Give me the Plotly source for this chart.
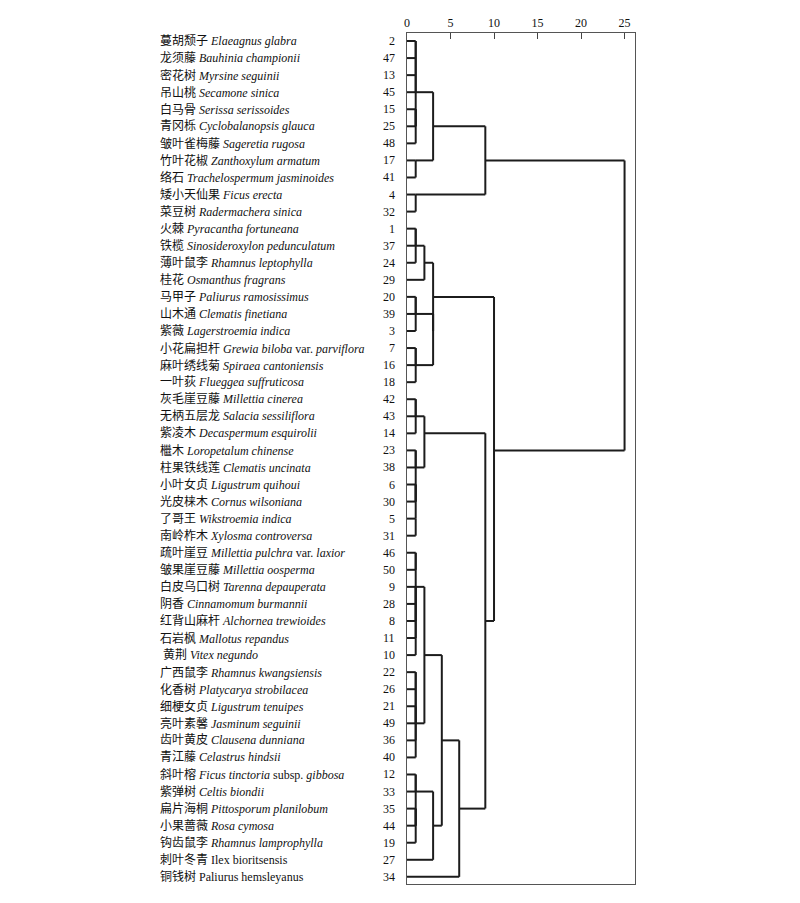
import math
import plotly.graph_objects as go

# ---- data ----
leaf_ids = [2, 47, 13, 45, 15, 25, 48, 17, 41, 4, 32, 1, 37, 24, 29, 20, 39, 3, 7, 16,
            18, 42, 43, 14, 23, 38, 6, 30, 5, 31, 46, 50, 9, 28, 8, 11, 10, 22, 26, 21,
            49, 36, 40, 12, 33, 35, 44, 19, 27, 34]

cn_names = ["蔓胡颓子", "龙须藤", "密花树", "吊山桃", "白马骨", "青冈栎", "皱叶雀梅藤", "竹叶花椒",
            "络石", "矮小天仙果", "菜豆树", "火棘", "铁榄", "薄叶鼠李", "桂花", "马甲子", "山木通",
            "紫薇", "小花扁担杆", "麻叶绣线菊", "一叶荻", "灰毛崖豆藤", "无柄五层龙", "紫凌木", "檵木",
            "柱果铁线莲", "小叶女贞", "光皮梾木", "了哥王", "南岭柞木", "疏叶崖豆", "皱果崖豆藤",
            "白皮乌口树", "阴香", "红背山麻杆", "石岩枫", "\u00a0黄荆", "广西鼠李", "化香树", "细梗女贞",
            "亮叶素馨", "齿叶黄皮", "青江藤", "斜叶榕", "紫弹树", "扁片海桐", "小果蔷薇", "钩齿鼠李",
            "刺叶冬青", "铜钱树"]

latin_names = ["<i>Elaeagnus glabra</i>", "<i>Bauhinia championii</i>", "<i>Myrsine seguinii</i>",
               "<i>Secamone sinica</i>", "<i>Serissa serissoides</i>", "<i>Cyclobalanopsis glauca</i>",
               "<i>Sageretia rugosa</i>", "<i>Zanthoxylum armatum</i>", "<i>Trachelospermum jasminoides</i>",
               "<i>Ficus erecta</i>", "<i>Radermachera sinica</i>", "<i>Pyracantha fortuneana</i>",
               "<i>Sinosideroxylon pedunculatum</i>", "<i>Rhamnus leptophylla</i>", "<i>Osmanthus fragrans</i>",
               "<i>Paliurus ramosissimus</i>", "<i>Clematis finetiana</i>", "<i>Lagerstroemia indica</i>",
               "<i>Grewia biloba</i> var. <i>parviflora</i>", "<i>Spiraea cantoniensis</i>",
               "<i>Flueggea suffruticosa</i>", "<i>Millettia cinerea</i>", "<i>Salacia sessiliflora</i>",
               "<i>Decaspermum esquirolii</i>", "<i>Loropetalum chinense</i>", "<i>Clematis uncinata</i>",
               "<i>Ligustrum quihoui</i>", "<i>Cornus wilsoniana</i>", "<i>Wikstroemia indica</i>",
               "<i>Xylosma controversa</i>", "<i>Millettia pulchra</i> var. <i>laxior</i>",
               "<i>Millettia oosperma</i>", "<i>Tarenna depauperata</i>", "<i>Cinnamomum burmannii</i>",
               "<i>Alchornea trewioides</i>", "<i>Mallotus repandus</i>", "<i>Vitex negundo</i>",
               "<i>Rhamnus kwangsiensis</i>", "<i>Platycarya strobilacea</i>", "<i>Ligustrum tenuipes</i>",
               "<i>Jasminum seguinii</i>", "<i>Clausena dunniana</i>", "<i>Celastrus hindsii</i>",
               "<i>Ficus tinctoria</i> subsp. <i>gibbosa</i>", "<i>Celtis biondii</i>",
               "<i>Pittosporum planilobum</i>", "<i>Rosa cymosa</i>", "<i>Rhamnus lamprophylla</i>",
               "Ilex bioritsensis", "Paliurus hemsleyanus"]

# merges: (node, child_a, child_b, rescaled distance); ints = leaf ids
merges = [
    ("n1", 2, 47, 1), ("n2", 13, 45, 1), ("n3", "n1", "n2", 1), ("n4", 15, 25, 1),
    ("n5", "n4", 48, 1), ("n6", "n3", "n5", 1), ("n7", 17, 41, 1), ("n8", 4, 32, 1),
    ("n9", "n6", "n7", 3), ("n10", "n9", "n8", 9),
    ("n11", 1, 37, 1), ("n12", "n11", 24, 1), ("n13", "n12", 29, 2), ("n14", 20, 39, 1),
    ("n15", "n14", 3, 1), ("n16", 7, 16, 1), ("n17", "n16", 18, 1), ("n18", "n15", "n17", 3),
    ("n19", "n13", "n18", 3),
    ("n20", 42, 43, 1), ("n21", "n20", 14, 1), ("n22", 23, 38, 1), ("n23", 6, 30, 1),
    ("n24", 5, 31, 1), ("n25", "n23", "n24", 1), ("n26", "n22", "n25", 1), ("n27", "n21", "n26", 2),
    ("n28", 46, 50, 1), ("n29", 9, 28, 1), ("n30", 8, 11, 1), ("n31", "n29", "n30", 1),
    ("n32", "n31", 10, 1), ("n33", "n28", "n32", 1),
    ("n34", 22, 26, 1), ("n35", 21, 49, 1), ("n36", "n34", "n35", 1), ("n37", "n36", 36, 1),
    ("n38", "n37", 40, 1), ("n39", "n33", "n38", 2),
    ("n40", 12, 33, 1), ("n41", 35, 44, 1), ("n42", "n41", 19, 1), ("n43", "n40", "n42", 1),
    ("n44", "n43", 27, 3), ("n45", "n39", "n44", 4), ("n46", "n45", 34, 6),
    ("n47", "n27", "n46", 9), ("n48", "n19", "n47", 10), ("n49", "n10", "n48", 25),
]

axis_ticks = [0, 5, 10, 15, 20, 25]

# ---- build dendrogram segments ----
row = {lid: i for i, lid in enumerate(leaf_ids)}
height = {lid: 0 for lid in leaf_ids}
xs, ys = [], []
for node, a, b, d in merges:
    ra, rb = row[a], row[b]
    for c in (a, b):
        xs += [height[c], d, None]
        ys += [row[c], row[c], None]
    xs += [d, d, None]
    ys += [ra, rb, None]
    row[node] = math.floor((ra + rb) / 2)
    height[node] = d

FONT = "Liberation Serif, Noto Sans CJK SC, serif"

fig = go.Figure()
fig.add_trace(go.Scatter(x=xs, y=ys, mode="lines",
                         line=dict(color="#1c1c1c", width=2),
                         hoverinfo="skip", cliponaxis=False))

annotations = []
for i, lid in enumerate(leaf_ids):
    annotations.append(dict(x=0, y=i, xref="x", yref="y", xanchor="left", yanchor="middle",
                            xshift=-249, showarrow=False,
                            text=cn_names[i] + " " + latin_names[i],
                            font=dict(family=FONT, size=12, color="#111")))
    annotations.append(dict(x=0, y=i, xref="x", yref="y", xanchor="right", yanchor="middle",
                            xshift=-10, showarrow=False, text=str(lid),
                            font=dict(family=FONT, size=12, color="#111")))

fig.update_layout(
    width=792, height=895,
    margin=dict(l=399, r=165, t=25, b=19, autoexpand=False),
    paper_bgcolor="white", plot_bgcolor="white",
    showlegend=False,
    annotations=annotations,
    xaxis=dict(side="top", range=[0, 26.2], tickvals=axis_ticks, ticks="inside", ticklen=6,
               tickcolor="#444", showline=True, mirror=True, linecolor="#555", linewidth=1,
               showgrid=False, zeroline=False,
               tickfont=dict(family=FONT, size=12, color="#111")),
    yaxis=dict(range=[49.42, -0.47], showline=True, mirror=True, linecolor="#555", linewidth=1,
               showticklabels=False, ticks="", showgrid=False, zeroline=False),
)

fig.write_html("out.html")
